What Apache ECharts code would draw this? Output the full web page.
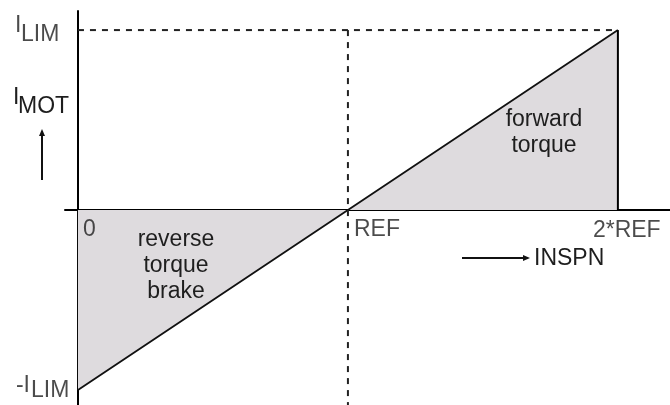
<!DOCTYPE html>
<html>
<head>
<meta charset="utf-8">
<script src="https://cdn.jsdelivr.net/npm/echarts@6/dist/echarts.min.js"></script>
<style>
  html, body { margin: 0; padding: 0; background: #fff; }
  #chart { width: 670px; height: 405px; }
</style>
</head>
<body>
<div id="chart"></div>
<script>
// characteristic: motor current vs speed setpoint
const speedPoints = [0, 1, 2];        // 0, REF, 2*REF
const currentPoints = [-1, 0, 1];     // -ILIM .. ILIM
const tickValues = [0, 1, 2];
const tickLabels = ['0', 'REF', '2*REF'];
const limitValues = [1, -1];
const limitMain = ['I', '-I'];
const limitSub = ['LIM', 'LIM'];
const refValue = 1;
const edgeValue = 2;

const FONT = '"Liberation Sans", Arial, sans-serif';
const FS = 23;
const TXT = '#1e1e1e';
const xMin = -0.048, xMax = 2.193;
const yMin = -1.083, yMax = 1.106;

const chart = echarts.init(document.getElementById('chart'));

const tickOffsets = [[5, 20], [6, 20], [-25, 21]];
const mainOffsets = [[-63, -4], [-62, -4]];
const subOffsets = [[-57, 5], [-47, 1]];

function textLabel(text, align, offset) {
    return {
        show: true, position: 'inside', formatter: text,
        align: align, verticalAlign: 'middle', offset: offset,
        fontSize: FS, fontFamily: FONT, color: TXT
    };
}

function gText(text, x, y, align, vAlign, extra) {
    return Object.assign({
        type: 'text', z: 100,
        style: {
            text: text, x: x, y: y, font: FS + 'px ' + FONT, fill: TXT, lineHeight: 26,
            textAlign: align, textVerticalAlign: vAlign, align: align, verticalAlign: vAlign
        }
    }, extra || {});
}

const option = {
    animation: false,
    grid: { left: 65, right: 0, top: 11, bottom: 0 },
    xAxis: {
        type: 'value', min: xMin, max: xMax,
        axisLine: { onZero: true, lineStyle: { color: '#000', width: 2 } },
        axisTick: { show: false }, axisLabel: { show: false }, splitLine: { show: false }
    },
    yAxis: {
        type: 'value', min: yMin, max: yMax,
        axisLine: { onZero: true, lineStyle: { color: '#000', width: 2 } },
        axisTick: { show: false }, axisLabel: { show: false }, splitLine: { show: false }
    },
    series: [
        {
            name: 'characteristic',
            type: 'line',
            data: speedPoints.map((x, i) => [x, currentPoints[i]]),
            showSymbol: false,
            lineStyle: { color: '#111', width: 1.8 },
            areaStyle: { color: '#dedbde', opacity: 1, origin: 0 },
            z: 2
        },
        {
            name: 'limit',
            type: 'line',
            data: [[0, limitValues[0]], [edgeValue, limitValues[0]]],
            showSymbol: false,
            lineStyle: { color: '#222', width: 2, type: [6, 6] },
            z: 3
        },
        {
            name: 'ref',
            type: 'line',
            data: [[refValue, limitValues[0]], [refValue, yMin]],
            showSymbol: false,
            lineStyle: { color: '#222', width: 2, type: [6, 6] },
            z: 3
        },
        {
            name: 'edge',
            type: 'line',
            data: [[edgeValue, 0], [edgeValue, limitValues[0]]],
            showSymbol: false,
            lineStyle: { color: '#000', width: 2 },
            z: 3
        },
        {
            name: 'ticks',
            type: 'scatter',
            symbolSize: 0,
            silent: true,
            z: 5,
            data: tickValues.map((v, i) => ({
                value: [v, 0],
                label: textLabel(tickLabels[i], 'left', tickOffsets[i])
            }))
        },
        {
            name: 'limits',
            type: 'scatter',
            symbolSize: 0,
            silent: true,
            z: 5,
            data: limitValues.map((v, i) => ({
                value: [0, v],
                label: textLabel(limitMain[i], 'left', mainOffsets[i])
            })).concat(limitValues.map((v, i) => ({
                value: [0, v],
                label: textLabel(limitSub[i], 'left', subOffsets[i])
            })))
        }
    ],
    graphic: [
        gText('I', 13, 98, 'left', 'middle'),
        gText('MOT', 18, 107, 'left', 'middle'),
        { type: 'line', z: 100, shape: { x1: 42, y1: 180, x2: 42, y2: 134 }, style: { stroke: '#111', lineWidth: 2 } },
        { type: 'polygon', z: 100, shape: { points: [[42, 129], [39, 136], [45, 136]] }, style: { fill: '#111' } },
        { type: 'line', z: 100, shape: { x1: 462, y1: 258, x2: 524, y2: 258 }, style: { stroke: '#111', lineWidth: 2 } },
        { type: 'polygon', z: 100, shape: { points: [[530, 258], [523, 255], [523, 261]] }, style: { fill: '#111' } },
        gText('INSPN', 534, 259, 'left', 'middle'),
        gText('reverse\ntorque\nbrake', 176, 227, 'center', 'top'),
        gText('forward\ntorque', 544, 107, 'center', 'top')
    ]
};

chart.setOption(option);
</script>
</body>
</html>
